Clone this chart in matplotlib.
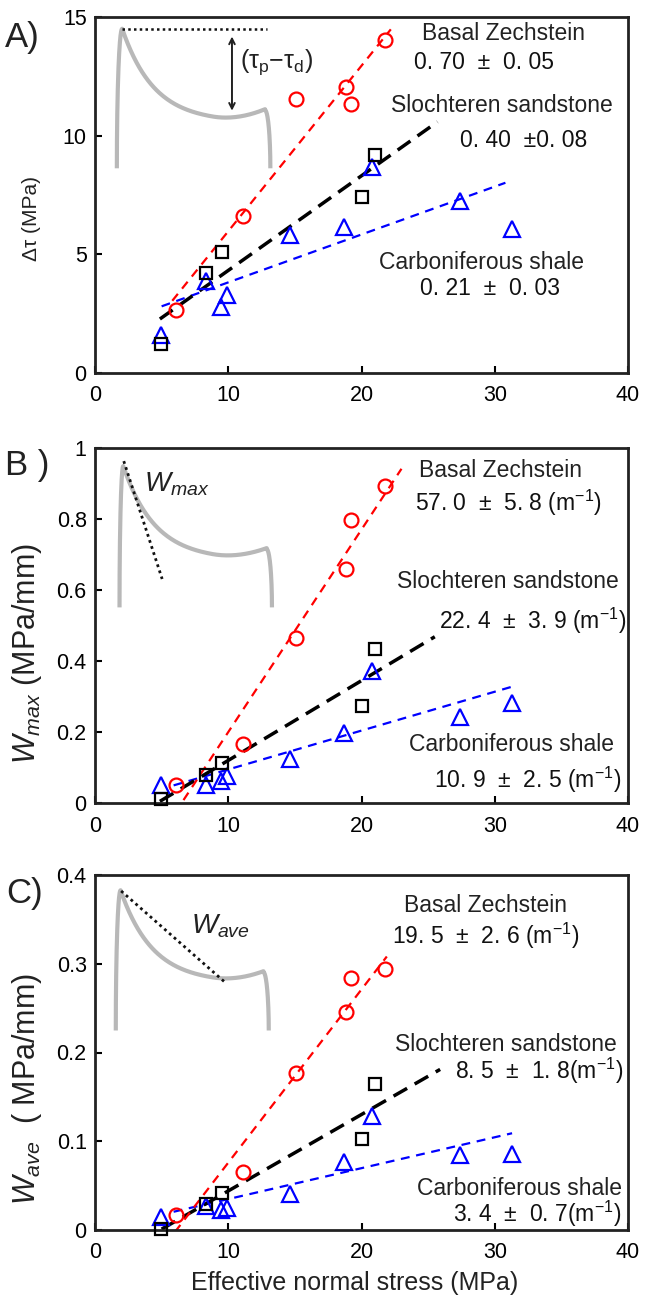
import numpy as np
import matplotlib
matplotlib.use('Agg')
import matplotlib.pyplot as plt

plt.rcParams['font.family'] = ['Liberation Sans', 'DejaVu Sans']
plt.rcParams['mathtext.fontset'] = 'custom'
plt.rcParams['mathtext.rm'] = 'Liberation Sans'
plt.rcParams['mathtext.it'] = 'Liberation Sans:italic'

# effective normal stress (MPa)
x_bz = [6.1, 11.1, 15.1, 18.8, 19.2, 21.8]
x_ss = [4.95, 8.3, 9.5, 20.0, 21.05]
x_cs = [4.95, 8.3, 9.47, 9.87, 14.6, 18.7, 20.8, 27.4, 31.3]

# A) stress drop (MPa)
dtau_bz = [2.66, 6.63, 11.53, 12.03, 11.35, 14.02]
dtau_ss = [1.23, 4.2, 5.09, 7.4, 9.19]
dtau_cs = [1.6, 3.86, 2.8, 3.3, 5.8, 6.17, 8.7, 7.25, 6.06]

# B) W_max (MPa/mm)
wmax_bz = [0.051, 0.165, 0.465, 0.658, 0.798, 0.893]
wmax_ss = [0.011, 0.079, 0.112, 0.273, 0.435]
wmax_cs = [0.05, 0.051, 0.063, 0.075, 0.124, 0.196, 0.372, 0.243, 0.283]

# C) W_ave (MPa/mm)
wave_bz = [0.0169, 0.0648, 0.177, 0.246, 0.2835, 0.2936]
wave_ss = [0.001, 0.029, 0.042, 0.103, 0.164]
wave_cs = [0.015, 0.027, 0.0225, 0.025, 0.041, 0.077, 0.129, 0.084, 0.086]

# x ranges of the fitted lines
fit_bz = [[5.8, 22.2], [6.0, 23.0], [6.0, 21.9]]
fit_ss = [[4.87, 25.7], [4.87, 25.5], [5.0, 25.9]]
fit_cs = [[5.0, 30.8], [5.9, 31.3], [5.9, 31.3]]

names = ['Basal Zechstein', 'Slochteren sandstone', 'Carboniferous shale']
slopes_A = ['0. 70  \u00b1  0. 05', '0. 40  \u00b10. 08', '0. 21  \u00b1  0. 03']
slopes_B = ['57. 0  \u00b1  5. 8 (m$^{\\mathrm{-1}}$)', '22. 4  \u00b1  3. 9 (m$^{\\mathrm{-1}}$)',
            '10. 9  \u00b1  2. 5 (m$^{\\mathrm{-1}}$)']
slopes_C = ['19. 5  \u00b1  2. 6 (m$^{\\mathrm{-1}}$)', '8. 5  \u00b1  1. 8(m$^{\\mathrm{-1}}$)',
            '3. 4  \u00b1  0. 7(m$^{\\mathrm{-1}}$)']

W, H = 648, 1307
fig = plt.figure(figsize=(W / 100, H / 100), dpi=100)


def mk_ax(top, bot):
    return fig.add_axes([95 / W, 1 - bot / H, (628 - 95) / W, (bot - top) / H])


axA = mk_ax(17, 373)
axB = mk_ax(448, 803)
axC = mk_ax(875, 1230)


def sketch(ax, x0, xp, x1, x2, ybot, ypk, yval, ybump):
    t = np.linspace(0, np.pi / 2, 40)
    rx = x0 + (xp - x0) * (1 - np.cos(t))
    ry = ybot + (ypk - ybot) * np.sin(t)
    dx = np.linspace(xp, x1, 150)
    dy = yval + (ypk - yval) * np.exp(-(dx - xp) / 0.06) \
        + (ybump - yval) * np.clip((dx - 0.22) / (x1 - 0.22), 0, 1) ** 2
    ex = x1 + (x2 - x1) * np.sin(t)
    ey = ybump - (ybump - ybot) * (1 - np.cos(t))
    xs = np.concatenate([rx, dx, ex])
    ys = np.concatenate([ry, dy, ey])
    ax.plot(xs, ys, color='#b8b8b8', lw=3, transform=ax.transAxes, zorder=1,
            solid_capstyle='butt')


def panel(ax, y_bz, y_ss, y_cs, k):
    for xd, yd, ext, col, mk, ms, lw, dash in [
            (x_cs, y_cs, fit_cs[k], 'blue', '^', 11, 1.6, (4, 3)),
            (x_ss, y_ss, fit_ss[k], 'black', 's', 8.5, 2.5, (4.5, 2.5)),
            (x_bz, y_bz, fit_bz[k], 'red', 'o', 10, 1.6, (4, 3))]:
        p = np.polyfit(xd, yd, 1)
        xx = np.array(ext)
        ax.plot(xx, np.polyval(p, xx), color=col, lw=lw, dashes=dash, zorder=2)
        ax.plot(xd, yd, mk, mfc='none', mec=col, ms=ms, mew=1.6, zorder=3,
                clip_on=False, ls='none')
    ax.set_xlim(0, 40)
    ax.set_xticks([0, 10, 20, 30, 40])
    ax.set_xticklabels(['0', '10', '20', '30', '40'])
    ax.tick_params(direction='in', labelsize=15.5, length=5, width=1.5,
                   top=False, right=False)
    ax.tick_params(axis='x', pad=9)
    ax.tick_params(axis='y', pad=6)
    for s in ax.spines.values():
        s.set_linewidth(2)
        s.set_color('#222222')


panel(axA, dtau_bz, dtau_ss, dtau_cs, 0)
axA.set_ylim(0, 15)
axA.set_yticks([0, 5, 10, 15])
axA.set_yticklabels(['0', '5', '10', '15'])

panel(axB, wmax_bz, wmax_ss, wmax_cs, 1)
axB.set_ylim(0, 1)
axB.set_yticks([0, 0.2, 0.4, 0.6, 0.8, 1])
axB.set_yticklabels(['0', '0.2', '0.4', '0.6', '0.8', '1'])

panel(axC, wave_bz, wave_ss, wave_cs, 2)
axC.set_ylim(0, 0.4)
axC.set_yticks([0, 0.1, 0.2, 0.3, 0.4])
axC.set_yticklabels(['0', '0.1', '0.2', '0.3', '0.4'])

# inset sketches
sketch(axA, 0.041, 0.051, 0.319, 0.329, 0.575, 0.967, 0.705, 0.738)
axA.plot([0.051, 0.322], [0.967, 0.967], color='#111111', lw=1.8, ls=(0, (1, 1.3)),
         transform=axA.transAxes)
axA.annotate('', xy=(0.257, 0.953), xytext=(0.257, 0.729), xycoords='axes fraction',
             arrowprops=dict(arrowstyle='<->', color='#222222', lw=1.4))
axA.text(0.272, 0.872, '(\u03c4$_{\\mathrm{p}}$\u2212\u03c4$_{\\mathrm{d}}$)',
         transform=axA.transAxes, fontsize=18, ha='left', va='center', color='#222222')

sketch(axB, 0.046, 0.053, 0.322, 0.332, 0.551, 0.949, 0.685, 0.715)
axB.plot([0.054, 0.126], [0.963, 0.631], color='#111111', lw=2, ls=(0, (1, 1.3)),
         transform=axB.transAxes)
axB.text(0.092, 0.897, '$W_{max}$', transform=axB.transAxes, fontsize=20,
         ha='left', va='center', color='#222222')

sketch(axC, 0.039, 0.048, 0.316, 0.326, 0.562, 0.957, 0.697, 0.726)
axC.plot([0.049, 0.243], [0.955, 0.699], color='#111111', lw=2, ls=(0, (1, 1.3)),
         transform=axC.transAxes)
axC.text(0.18, 0.857, '$W_{ave}$', transform=axC.transAxes, fontsize=20,
         ha='left', va='center', color='#222222')

# annotations (axes fraction positions)
posA = [(0.766, 0.953), (0.730, 0.871), (0.763, 0.750), (0.804, 0.652), (0.726, 0.310), (0.741, 0.236)]
posB = [(0.760, 0.936), (0.776, 0.846), (0.774, 0.623), (0.822, 0.514), (0.781, 0.164), (0.812, 0.065)]
posC = [(0.732, 0.913), (0.733, 0.829), (0.770, 0.522), (0.833, 0.448), (0.797, 0.117), (0.830, 0.045)]
for ax, pos, sl in [(axA, posA, slopes_A), (axB, posB, slopes_B), (axC, posC, slopes_C)]:
    for i in range(3):
        ax.text(*pos[2 * i], names[i], transform=ax.transAxes, fontsize=16.5,
                ha='center', va='center', color='#222222')
        ax.text(*pos[2 * i + 1], sl[i], transform=ax.transAxes, fontsize=16.5,
                ha='center', va='center', color='#111111')

# axis labels
axA.text(-0.12, 0.433, '\u0394\u03c4 (MPa)', transform=axA.transAxes, rotation=90,
         fontsize=15, ha='center', va='center', color='#222222')
axB.text(-0.128, 0.42, '$W_{max}$ (MPa/mm)', transform=axB.transAxes, rotation=90,
         fontsize=22, ha='center', va='center', color='#222222')
axC.text(-0.128, 0.397, '$W_{ave}$  ( MPa/mm)', transform=axC.transAxes, rotation=90,
         fontsize=22, ha='center', va='center', color='#222222')
fig.text(355 / W, 1 - 1283 / H, 'Effective normal stress (MPa)', fontsize=18,
         ha='center', va='center', color='#222222')

# panel letters
fig.text(22 / W, 1 - 37 / H, 'A)', fontsize=25, ha='center', va='center', color='#222222')
fig.text(27 / W, 1 - 466 / H, 'B )', fontsize=25, ha='center', va='center', color='#222222')
fig.text(25 / W, 1 - 894 / H, 'C)', fontsize=25, ha='center', va='center', color='#222222')

fig.savefig('out.png', dpi=100)
